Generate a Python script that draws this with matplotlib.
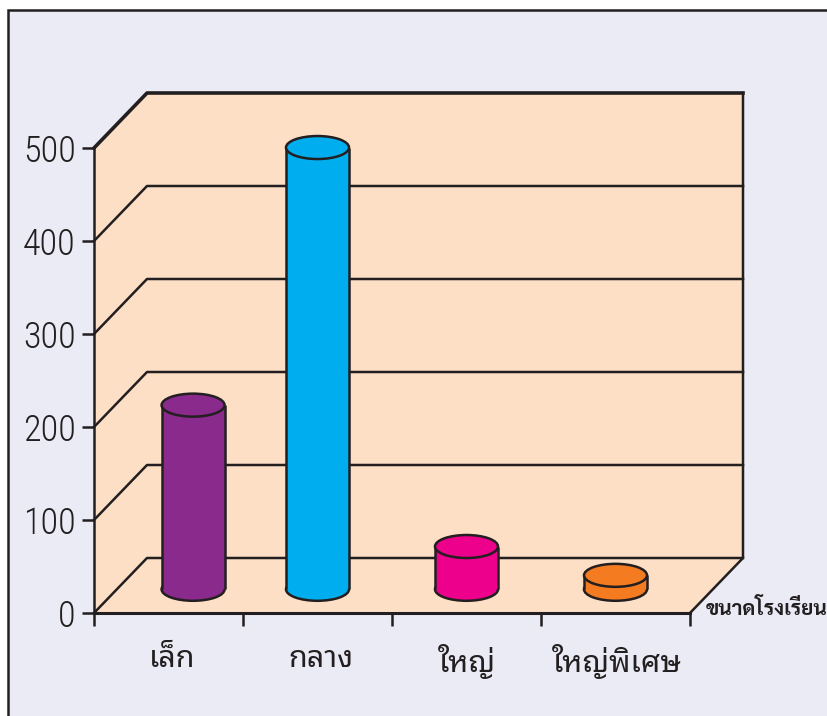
import matplotlib
matplotlib.use("Agg")
import matplotlib.pyplot as plt
from matplotlib.patches import Ellipse, Polygon, Rectangle

categories = ["เล็ก", "กลาง", "ใหญ่", "ใหญ่พิเศษ"]
values = [198, 475, 46, 15]
bar_x = [0.665, 1.5, 2.5, 3.5]
colors = ["#8A2A8C", "#00AEEF", "#EC008C", "#F47B20"]
y_ticks = [0, 100, 200, 300, 400, 500]
axis_label = "ขนาดโรงเรียน"

W, H = 828, 716
INK = "#231F20"
THAI = ["Noto Sans Thai Looped", "Sarabun", "Anuphan", "DejaVu Sans"]
THAI_BOLD = ["Sarabun", "Anuphan", "DejaVu Sans"]
DIGITS = ["Roboto Condensed", "Archivo Narrow", "Liberation Sans Narrow", "Roboto", "DejaVu Sans"]
LW = 1.8

fig = plt.figure(figsize=(W / 100, H / 100), dpi=100, facecolor="white")
fig.add_artist(Rectangle((8 / W, -0.05), 1.1, 1 - 10 / H + 0.05, transform=fig.transFigure,
                         fc="#EBEBF5", ec=INK, lw=1.8, zorder=-1))
# axes = front plane of the box, 0..4 categories by 0..500
ax = fig.add_axes([94 / W, 1 - 613 / H, 596 / W, 465 / H])
ax.patch.set_visible(False)
for s in ax.spines.values():
    s.set_visible(False)

dx = 53 / 149       # depth of the box
dy = 55 * 500 / 465
floor = 25.5        # bars stand this far in from the front edge
bw = 63 / 149
eh = 23 * 500 / 465

ax.add_patch(Polygon([(0, 0), (4, 0), (4 + dx, dy), (4 + dx, 500 + dy), (dx, 500 + dy), (0, 500)],
                     fc="#FDDFC6", ec="none", clip_on=False, zorder=1))
for v in y_ticks[:-1]:
    ax.plot([0, dx, 4 + dx], [v, v + dy, v + dy], color=INK, lw=LW, clip_on=False, zorder=2)
ax.plot([0, dx, 4 + dx], [500, 500 + dy, 500 + dy], color=INK, lw=2.6, clip_on=False, zorder=2)
ax.plot([4, 4 + dx, 4 + dx], [0, dy, 500 + dy], color=INK, lw=LW, clip_on=False, zorder=2)
ax.plot([0, 0], [0, 500], color=INK, lw=LW, clip_on=False, zorder=2)
ax.plot([0, 4], [0, 0], color=INK, lw=2.2, clip_on=False, zorder=2)

for x, v, c in zip(bar_x, values, colors):
    top = floor + v
    ax.add_patch(Ellipse((x, floor), bw, eh, fc=c, ec=INK, lw=LW, clip_on=False, zorder=3))
    ax.bar(x, v, width=bw, bottom=floor, color=c, lw=0, zorder=3)
    ax.vlines([x - bw / 2, x + bw / 2], floor, top, color=INK, lw=LW, zorder=3)
    ax.add_patch(Ellipse((x, top), bw, eh, fc=c, ec=INK, lw=LW, clip_on=False, zorder=3))

ax.set_xlim(0, 4); ax.set_ylim(0, 500)
ax.set_yticks(y_ticks)
ax.tick_params(axis="y", length=9, width=LW, color=INK, pad=4, labelsize=26, labelcolor=INK)
for t in ax.get_yticklabels():
    t.set_family(DIGITS); t.set_fontweight("light")
ax.set_xticks(range(5)); ax.set_xticklabels([])
ax.tick_params(axis="x", length=9, width=LW, color=INK)
ax.set_xticks([0.525, 1.525, 2.5, 3.51], categories, minor=True)
ax.tick_params(axis="x", which="minor", length=0, pad=22, labelsize=22, labelcolor=INK)
for t in ax.get_xticklabels(minor=True):
    t.set_family(THAI); t.set_fontweight("light")

ax.annotate(axis_label, xy=(4, 0), xytext=(11, 10), textcoords="offset points", ha="left", va="top",
            fontsize=15, fontweight="bold", family=THAI_BOLD, color=INK, annotation_clip=False)

fig.savefig("out.png", dpi=100)
